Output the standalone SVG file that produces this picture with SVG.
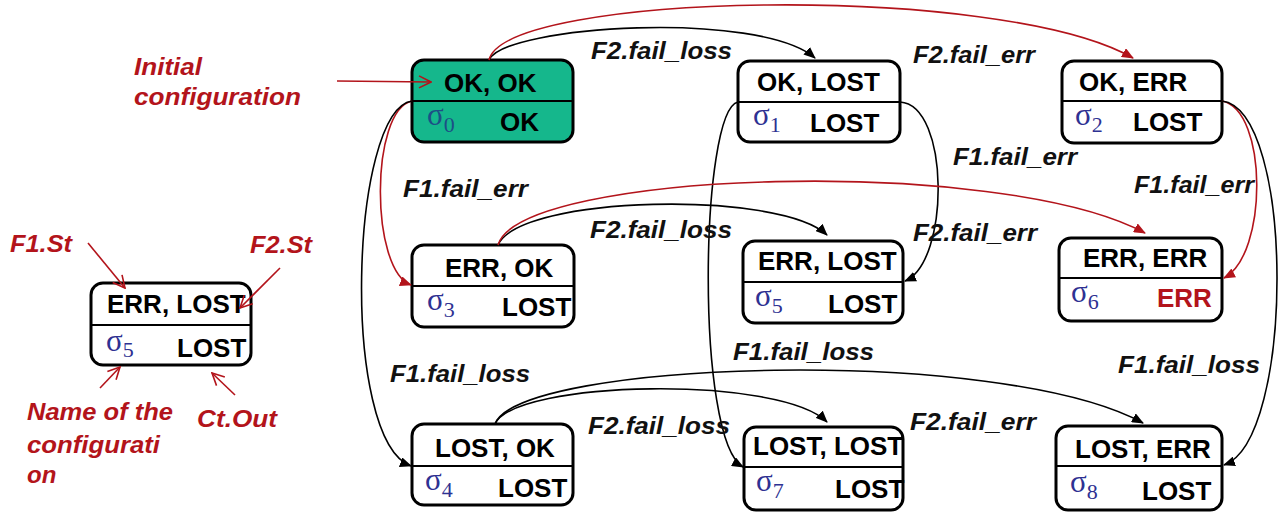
<svg xmlns="http://www.w3.org/2000/svg" width="1284" height="512" viewBox="0 0 1284 512">
  <defs>
    <style>
      .box { fill: #ffffff; stroke: #000; stroke-width: 3; }
      .box.init { fill: #15b78c; }
      .div { stroke: #000; stroke-width: 2; }
      .st { font-family: "Liberation Sans", Arial, sans-serif; font-weight: bold; font-size: 26px; fill: #000; }
      .st.err { fill: #b3141b; }
      .sig { font-family: "Liberation Serif", "DejaVu Serif", serif; font-size: 31px; fill: #2e3192; }
      .sig.dark { fill: #1d4f86; }
      .sub { font-size: 22px; }
      .lbl { font-family: "Liberation Sans", Arial, sans-serif; font-weight: bold; font-style: italic; font-size: 23px; fill: #111; }
      .note { font-family: "Liberation Sans", Arial, sans-serif; font-weight: bold; font-style: italic; font-size: 24px; fill: #b3141b; }
      .edge { fill: none; stroke: #000; stroke-width: 1.6; marker-end: url(#headK); }
      .edge.red { stroke: #b3141b; marker-end: url(#headR); }
      .pointer { fill: none; stroke: #b3141b; stroke-width: 1.6; marker-end: url(#openR); }
    </style>
    <marker id="headK" viewBox="0 0 12 10" refX="11" refY="5" markerWidth="12" markerHeight="10" markerUnits="userSpaceOnUse" orient="auto">
      <path d="M0,0 L12,5 L0,10 Z" fill="#000"/>
    </marker>
    <marker id="headR" viewBox="0 0 12 10" refX="11" refY="5" markerWidth="12" markerHeight="10" markerUnits="userSpaceOnUse" orient="auto">
      <path d="M0,0 L12,5 L0,10 Z" fill="#b3141b"/>
    </marker>
    <marker id="openR" viewBox="0 0 14 14" refX="13" refY="7" markerWidth="14" markerHeight="14" markerUnits="userSpaceOnUse" orient="auto">
      <path d="M1,1 L13,7 L1,13" fill="none" stroke="#b3141b" stroke-width="1.6"/>
    </marker>
  </defs>

  <!-- legend: an annotated configuration box -->
  <g id="legend">
    <rect class="box" x="91" y="283" width="160" height="82" rx="12"/>
    <line class="div" x1="91" y1="325" x2="251" y2="325"/>
    <text class="st" x="107" y="313">ERR, LOST</text>
    <text class="sig" x="106" y="351">σ<tspan class="sub" dy="6">5</tspan></text>
    <text class="st" x="177" y="357">LOST</text>
    <text class="note" x="10" y="252" textLength="62" lengthAdjust="spacingAndGlyphs">F1.St</text>
    <text class="note" x="250" y="253" textLength="62" lengthAdjust="spacingAndGlyphs">F2.St</text>
    <text class="note" x="27" y="420" textLength="146" lengthAdjust="spacingAndGlyphs">Name of the</text>
    <text class="note" x="27" y="453" textLength="133" lengthAdjust="spacingAndGlyphs">configurati</text>
    <text class="note" x="27" y="483">on</text>
    <text class="note" x="197" y="427" textLength="80" lengthAdjust="spacingAndGlyphs">Ct.Out</text>
    <path class="pointer" d="M88,243 L125,288"/>
    <path class="pointer" d="M280,268 L240,308"/>
    <path class="pointer" d="M100,388 L120,367"/>
    <path class="pointer" d="M235,395 L212,373"/>
  </g>

  <g id="initial-note">
    <text class="note" x="134" y="75" textLength="68" lengthAdjust="spacingAndGlyphs">Initial</text>
    <text class="note" x="134" y="105" textLength="167" lengthAdjust="spacingAndGlyphs">configuration</text>
  </g>

  <!-- configurations -->
  <g id="s0">
    <rect class="box init" x="412" y="60" width="161" height="82" rx="12"/>
    <line class="div" x1="412" y1="101" x2="573" y2="101"/>
    <text class="st" x="444" y="92">OK, OK</text>
    <text class="sig dark" x="427" y="125">σ<tspan class="sub" dy="7">0</tspan></text>
    <text class="st" x="500" y="131">OK</text>
  </g>
  <g id="s1">
    <rect class="box" x="738" y="61" width="162" height="81" rx="12"/>
    <line class="div" x1="738" y1="102" x2="900" y2="102"/>
    <text class="st" x="757" y="91">OK, LOST</text>
    <text class="sig" x="753" y="125">σ<tspan class="sub" dy="7">1</tspan></text>
    <text class="st" x="810" y="132">LOST</text>
  </g>
  <g id="s2">
    <rect class="box" x="1062" y="61" width="160" height="82" rx="12"/>
    <line class="div" x1="1062" y1="101" x2="1222" y2="101"/>
    <text class="st" x="1079" y="91">OK, ERR</text>
    <text class="sig" x="1075" y="125">σ<tspan class="sub" dy="7">2</tspan></text>
    <text class="st" x="1133" y="131">LOST</text>
  </g>
  <g id="s3">
    <rect class="box" x="412" y="245" width="162" height="82" rx="12"/>
    <line class="div" x1="412" y1="286" x2="574" y2="286"/>
    <text class="st" x="445" y="277">ERR, OK</text>
    <text class="sig" x="427" y="310">σ<tspan class="sub" dy="7">3</tspan></text>
    <text class="st" x="502" y="316">LOST</text>
  </g>
  <g id="s5">
    <rect class="box" x="743" y="241" width="160" height="82" rx="12"/>
    <line class="div" x1="743" y1="282" x2="903" y2="282"/>
    <text class="st" x="758" y="270">ERR, LOST</text>
    <text class="sig" x="755" y="306">σ<tspan class="sub" dy="7">5</tspan></text>
    <text class="st" x="828" y="313">LOST</text>
  </g>
  <g id="s6">
    <rect class="box" x="1059" y="238" width="163" height="83" rx="12"/>
    <line class="div" x1="1059" y1="278" x2="1222" y2="278"/>
    <text class="st" x="1083" y="267">ERR, ERR</text>
    <text class="sig" x="1071" y="302">σ<tspan class="sub" dy="7">6</tspan></text>
    <text class="st err" x="1157" y="307">ERR</text>
  </g>
  <g id="s4">
    <rect class="box" x="412" y="424" width="161" height="81" rx="12"/>
    <line class="div" x1="412" y1="466" x2="573" y2="466"/>
    <text class="st" x="435" y="457">LOST, OK</text>
    <text class="sig" x="425" y="490">σ<tspan class="sub" dy="7">4</tspan></text>
    <text class="st" x="498" y="497">LOST</text>
  </g>
  <g id="s7">
    <rect class="box" x="744" y="427" width="159" height="83" rx="12"/>
    <line class="div" x1="744" y1="467" x2="903" y2="467"/>
    <text class="st" x="753" y="455">LOST, LOST</text>
    <text class="sig" x="756" y="491">σ<tspan class="sub" dy="7">7</tspan></text>
    <text class="st" x="835" y="498">LOST</text>
  </g>
  <g id="s8">
    <rect class="box" x="1056" y="426" width="166" height="84" rx="12"/>
    <line class="div" x1="1056" y1="466" x2="1222" y2="466"/>
    <text class="st" x="1075" y="458">LOST, ERR</text>
    <text class="sig" x="1070" y="492">σ<tspan class="sub" dy="7">8</tspan></text>
    <text class="st" x="1142" y="500">LOST</text>
  </g>

  <!-- transitions -->
  <g id="connectors">
    <path class="pointer" d="M337,81 L431,82"/>
    <path class="edge" d="M489,60 C505,25 760,10 815,58"/>
    <path class="edge red" d="M489,60 C505,-8 1000,-18 1133,58"/>
    <path class="edge red" d="M412,101 C370,110 370,270 411,285"/>
    <path class="edge" d="M412,101 C350,110 340,440 411,466"/>
    <path class="edge" d="M900,102 C950,105 950,262 905,281"/>
    <path class="edge" d="M738,102 C700,110 695,440 743,467"/>
    <path class="edge red" d="M1222,101 C1268,110 1268,255 1224,278"/>
    <path class="edge" d="M1222,101 C1295,110 1295,440 1224,465"/>
    <path class="edge" d="M498,245 C520,195 780,190 827,235"/>
    <path class="edge red" d="M498,245 C520,170 1000,155 1145,233"/>
    <path class="edge" d="M495,424 C515,380 780,375 827,422"/>
    <path class="edge" d="M495,424 C520,360 1000,345 1143,423"/>

    <text class="lbl" x="591" y="59" textLength="141" lengthAdjust="spacingAndGlyphs">F2.fail_loss</text>
    <text class="lbl" x="913" y="63" textLength="122" lengthAdjust="spacingAndGlyphs">F2.fail_err</text>
    <text class="lbl" x="953" y="165" textLength="124" lengthAdjust="spacingAndGlyphs">F1.fail_err</text>
    <text class="lbl" x="403" y="197" textLength="125" lengthAdjust="spacingAndGlyphs">F1.fail_err</text>
    <text class="lbl" x="1134" y="193" textLength="120" lengthAdjust="spacingAndGlyphs">F1.fail_err</text>
    <text class="lbl" x="590" y="238" textLength="142" lengthAdjust="spacingAndGlyphs">F2.fail_loss</text>
    <text class="lbl" x="913" y="241" textLength="124" lengthAdjust="spacingAndGlyphs">F2.fail_err</text>
    <text class="lbl" x="733" y="360" textLength="141" lengthAdjust="spacingAndGlyphs">F1.fail_loss</text>
    <text class="lbl" x="390" y="382" textLength="140" lengthAdjust="spacingAndGlyphs">F1.fail_loss</text>
    <text class="lbl" x="1118" y="373" textLength="142" lengthAdjust="spacingAndGlyphs">F1.fail_loss</text>
    <text class="lbl" x="588" y="434" textLength="142" lengthAdjust="spacingAndGlyphs">F2.fail_loss</text>
    <text class="lbl" x="910" y="430" textLength="126" lengthAdjust="spacingAndGlyphs">F2.fail_err</text>
  </g>
</svg>
